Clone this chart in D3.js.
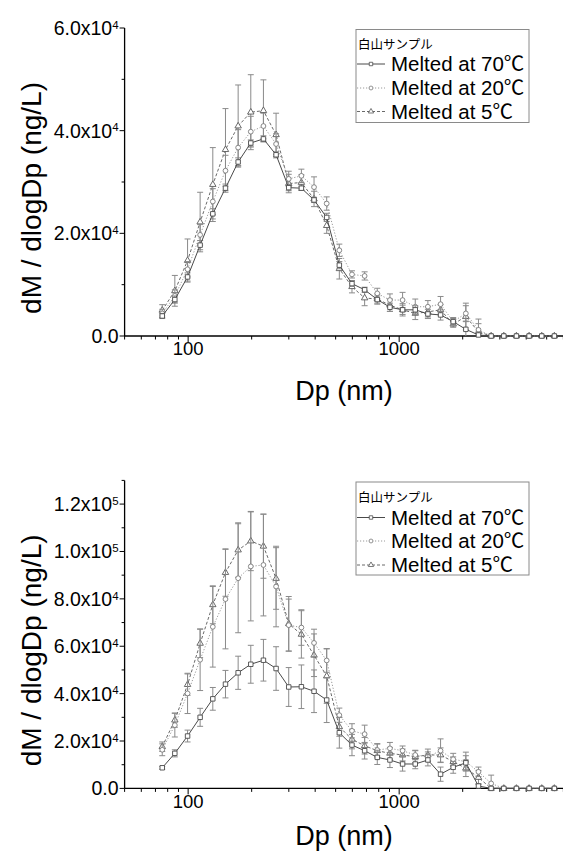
<!DOCTYPE html>
<html><head><meta charset="utf-8">
<script src="https://cdn.jsdelivr.net/npm/d3@7"></script>
<style>
html,body{margin:0;padding:0;background:#fff;}
svg{display:block;}
text{font-family:"Liberation Sans",Arial,"Noto Sans CJK JP",sans-serif;fill:#000;}
</style></head>
<body>
<svg id="c" width="563" height="852"></svg>
<script>
// ---- data ----
const diameters = [75.4, 86.5, 99.4, 114, 130.9, 150.3, 172.6, 198.1, 227.4, 261.1, 299.7, 344.1, 395.0, 453.5, 520.6, 597.6, 686.1, 787.6, 904.2, 1038, 1192, 1368, 1571, 1803, 2070, 2376, 2728, 3132, 3595, 4128, 4738, 5439];
const seriesNames = ["Melted at 70℃", "Melted at 20℃", "Melted at 5℃"];
const legendTitle = "白山サンプル";

// top panel values (ng/L)
const top70 = [3900, 7100, 11500, 17700, 23800, 28800, 33900, 37600, 38400, 35300, 28900, 28800, 26500, 23100, 13800, 10200, 9000, 7100, 5600, 5100, 5100, 4300, 4100, 2800, 1300, 200, 0, 0, 0, 0, 0, 0];
const top20 = [4400, 7800, 13000, 19700, 26200, 32200, 36700, 39800, 40900, 37400, 30600, 31200, 29000, 25800, 16700, 12000, 11700, 8300, 7000, 7000, 5700, 5700, 6200, 2800, 4400, 1200, 0, 0, 0, 0, 0, 0];
const top5  = [5000, 8800, 14700, 22200, 29500, 36300, 40900, 43600, 43900, 39200, 29700, 29900, 26700, 21500, 13100, 9600, 7400, 7200, 6000, 5100, 4400, 4700, 5100, 2300, 3800, 800, 0, 0, 0, 0, 0, 0];
const top70err = [500, 700, 800, 900, 1000, 800, 800, 600, 600, 600, 600, 400, 500, 800, 700, 500, 500, 700, 800, 900, 800, 900, 1000, 600, 1500, 600, 0, 0, 0, 0, 0, 0];
const top20err = [800, 1200, 1500, 2000, 2500, 3000, 3500, 3000, 2500, 2000, 1500, 1300, 2000, 1300, 1200, 700, 800, 1000, 1200, 1500, 1500, 1200, 1500, 800, 1500, 1200, 0, 0, 0, 0, 0, 0];
const top5err  = [1100, 3000, 4200, 5800, 7200, 8000, 8000, 7300, 6000, 4200, 1800, 1500, 1500, 1500, 2000, 1200, 1500, 1000, 1200, 1200, 1200, 1000, 1000, 600, 2600, 2500, 0, 0, 0, 0, 0, 0];

// bottom panel values (ng/L)
const bot70 = [8700, 14800, 22100, 30000, 37800, 44000, 48800, 52400, 54100, 50600, 42800, 42900, 41000, 37300, 23500, 18300, 15900, 13100, 12000, 10300, 10300, 12000, 6000, 8900, 10800, 1000, 0, 0, 0, 0, 0, 0];
const bot20 = [16300, 26700, 40100, 54300, 68200, 79900, 88700, 93700, 94300, 85200, 68900, 67900, 61400, 54000, 30900, 24300, 22900, 16200, 16900, 15900, 14100, 13400, 15900, 12300, 11300, 7000, 2100, 0, 0, 0, 0, 0];
const bot5  = [17600, 28800, 43800, 61200, 77500, 91100, 100600, 104400, 102200, 88600, 69500, 65000, 56200, 47400, 26000, 20700, 18000, 15900, 14800, 14100, 13400, 14100, 14100, 11300, 8500, 4600, 0, 0, 0, 0, 0, 0];
const bot70err = [600, 1500, 2500, 3800, 4800, 5800, 7000, 8000, 8800, 9200, 8200, 9200, 9000, 9500, 6500, 4500, 3500, 3000, 3200, 3000, 2000, 2500, 3000, 2500, 3000, 1000, 0, 0, 0, 0, 0, 0];
const bot20err = [2500, 5000, 8500, 13000, 17000, 21000, 23000, 23000, 21500, 17000, 11000, 7500, 5800, 5000, 3000, 3000, 3800, 2500, 2500, 2000, 2000, 2000, 5000, 2500, 4000, 2000, 3500, 0, 0, 0, 0, 0];
const bot5err  = [2000, 3000, 4500, 6000, 8000, 10000, 11500, 12500, 13500, 13000, 11500, 10000, 9000, 11500, 4000, 4000, 3500, 3000, 2500, 2500, 2500, 2500, 3000, 2000, 3500, 3000, 0, 0, 0, 0, 0, 0];

const xMajor = [100, 1000, 10000];
const xMinor = [50, 60, 70, 80, 90, 200, 300, 400, 500, 600, 700, 800, 900, 2000, 3000, 4000, 5000, 6000, 7000, 8000, 9000];
const xTickLabels = ["100", "1000"];
const topYTicks = [0, 20000, 40000, 60000];
const topYMinor = [10000, 30000, 50000];
const topYLabels = [["0.0", ""], ["2.0x10", "4"], ["4.0x10", "4"], ["6.0x10", "4"]];
const botYTicks = [0, 20000, 40000, 60000, 80000, 100000, 120000];
const botYMinor = [10000, 30000, 50000, 70000, 90000, 110000, 130000];
const botYLabels = [["0.0", ""], ["2.0x10", "4"], ["4.0x10", "4"], ["6.0x10", "4"], ["8.0x10", "4"], ["1.0x10", "5"], ["1.2x10", "5"]];

// ---- drawing ----
const svg = d3.select("#c");
const x = d3.scaleLog().domain([50, 10000]).range([124.6, 610.2]);
const styles = [
  {stroke: "#4a4a4a", dash: null, marker: "square", mstroke: "#4a4a4a"},
  {stroke: "#9a9a9a", dash: "1.2,1.8", marker: "circle", mstroke: "#7a7a7a"},
  {stroke: "#6a6a6a", dash: "3,2", marker: "triangle", mstroke: "#5a5a5a"}
];
const symbolMap = {square: d3.symbolSquare, circle: d3.symbolCircle, triangle: d3.symbolTriangle};
const symbolSize = {square: 20, circle: 18, triangle: 18};

function panel(cfg) {
  const g = svg.append("g");
  const y = d3.scaleLinear().domain([0, cfg.ymax]).range([cfg.y0, cfg.y0 - 308]);
  const xr = x.range();
  g.append("line").attr("x1", xr[0]).attr("x2", xr[1]).attr("y1", cfg.y0).attr("y2", cfg.y0).attr("stroke", "#000").attr("stroke-width", 1.3);
  g.append("line").attr("x1", xr[0]).attr("x2", xr[0]).attr("y1", cfg.y0).attr("y2", y(cfg.ymax)).attr("stroke", "#000").attr("stroke-width", 1.3);
  xMajor.forEach(v => g.append("line").attr("x1", x(v)).attr("x2", x(v)).attr("y1", cfg.y0).attr("y2", cfg.y0 + 6).attr("stroke", "#000"));
  xMinor.forEach(v => g.append("line").attr("x1", x(v)).attr("x2", x(v)).attr("y1", cfg.y0).attr("y2", cfg.y0 + 3.5).attr("stroke", "#000"));
  xTickLabels.forEach((lab, i) => g.append("text").attr("x", x(xMajor[i])).attr("y", cfg.y0 + 6).attr("dy", "0.71em")
      .attr("text-anchor", "middle").attr("font-size", 18.5).text(lab));
  cfg.yTicks.forEach((v, i) => {
    g.append("line").attr("x1", xr[0] - 5).attr("x2", xr[0]).attr("y1", y(v)).attr("y2", y(v)).attr("stroke", "#000");
    const t = g.append("text").attr("x", xr[0] - 6).attr("y", y(v)).attr("dy", "0.36em").attr("text-anchor", "end").attr("font-size", 19.5);
    t.append("tspan").text(cfg.yLabels[i][0]);
    if (cfg.yLabels[i][1]) t.append("tspan").attr("dy", "-0.55em").attr("font-size", 11.5).text(cfg.yLabels[i][1]);
  });
  cfg.yMinor.forEach(v => g.append("line").attr("x1", xr[0] - 3).attr("x2", xr[0]).attr("y1", y(v)).attr("y2", y(v)).attr("stroke", "#000"));
  g.append("text").attr("x", 344).attr("y", cfg.y0 + cfg.xTitleOff).attr("dy", "0.36em").attr("text-anchor", "middle").attr("font-size", 27).text("Dp (nm)");
  g.append("text").attr("transform", `translate(31,${cfg.y0 - 138}) rotate(-90)`).attr("dy", "0.36em").attr("text-anchor", "middle").attr("font-size", 28).text("dM / dlogDp (ng/L)");

  const order = [2, 1, 0];
  order.forEach(si => {
    const vals = cfg.values[si], errs = cfg.errors[si], st = styles[si];
    const pts = diameters.map((d, i) => ({d, v: vals[i], e: errs[i]}));
    const eg = g.append("g").attr("stroke", "#8a8a8a").attr("stroke-width", 1);
    pts.filter(p => p.e > 0).forEach(p => {
      const px = x(p.d);
      eg.append("line").attr("x1", px).attr("x2", px).attr("y1", y(p.v + p.e)).attr("y2", y(Math.max(0, p.v - p.e)));
      eg.append("line").attr("x1", px - 3).attr("x2", px + 3).attr("y1", y(p.v + p.e)).attr("y2", y(p.v + p.e));
      if (p.v - p.e > 0) eg.append("line").attr("x1", px - 3).attr("x2", px + 3).attr("y1", y(p.v - p.e)).attr("y2", y(p.v - p.e));
    });
    g.append("path").datum(pts)
      .attr("d", d3.line().x(p => x(p.d)).y(p => y(p.v)))
      .attr("fill", "none").attr("stroke", st.stroke).attr("stroke-width", 1)
      .attr("stroke-dasharray", st.dash);
    g.append("g").selectAll("path").data(pts).join("path")
      .attr("transform", p => `translate(${x(p.d)},${y(p.v)})`)
      .attr("d", d3.symbol().type(symbolMap[st.marker]).size(symbolSize[st.marker]))
      .attr("fill", "#fff").attr("stroke", st.mstroke).attr("stroke-width", 0.9);
  });

  const L = cfg.legend;
  const lg = g.append("g");
  lg.append("rect").attr("x", 356).attr("y", L.top).attr("width", 173).attr("height", L.h)
    .attr("fill", "#fff").attr("stroke", "#8a8a8a").attr("stroke-width", 1);
  lg.append("text").attr("x", 358).attr("y", L.title).attr("dy", "0.36em").attr("font-size", 12.5)
    .style("font-family", "'Noto Sans CJK JP',sans-serif").text(legendTitle);
  seriesNames.forEach((name, i) => {
    const yy = L.rows[i], st = styles[i];
    lg.append("line").attr("x1", 357).attr("x2", 385).attr("y1", yy).attr("y2", yy)
      .attr("stroke", st.stroke).attr("stroke-width", 1).attr("stroke-dasharray", st.dash);
    lg.append("path").attr("transform", `translate(371,${yy})`)
      .attr("d", d3.symbol().type(symbolMap[st.marker]).size(12)).attr("fill", "#fff").attr("stroke", st.mstroke).attr("stroke-width", 0.8);
    lg.append("text").attr("x", 391).attr("y", yy).attr("dy", "0.36em").attr("font-size", 20.5).text(name);
  });
}

panel({y0: 336, ymax: 60000, yTicks: topYTicks, yMinor: topYMinor, yLabels: topYLabels, xTitleOff: 54,
  values: [top70, top20, top5], errors: [top70err, top20err, top5err],
  legend: {top: 29.5, h: 93, title: 44, rows: [64, 88, 111.5]}});
panel({y0: 788.4, ymax: 130000, yTicks: botYTicks, yMinor: botYMinor, yLabels: botYLabels, xTitleOff: 47,
  values: [bot70, bot20, bot5], errors: [bot70err, bot20err, bot5err],
  legend: {top: 482, h: 93, title: 497, rows: [517.5, 541, 565]}});
</script>
</body></html>
